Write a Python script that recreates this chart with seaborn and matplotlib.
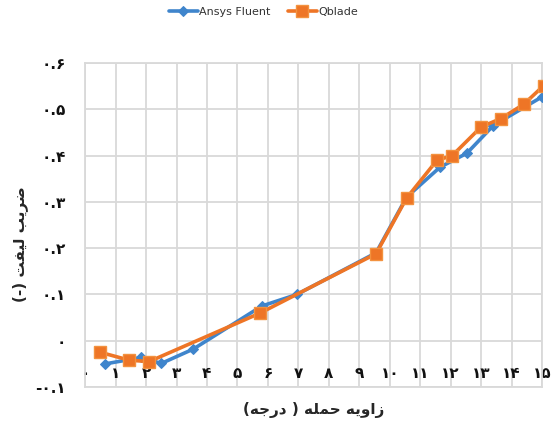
import matplotlib
matplotlib.use("Agg")
import matplotlib.pyplot as plt
import seaborn as sns
import pandas as pd

# ---- data ----
fluent_x = [0.66, 1.85, 2.5, 3.55, 5.8, 6.95, 9.55, 10.55, 11.65, 12.53, 13.4, 15.0]
fluent_y = [-0.050, -0.036, -0.049, -0.018, 0.075, 0.100, 0.190, 0.310, 0.375, 0.405, 0.465, 0.527]
qblade_x = [0.5, 1.45, 2.1, 5.75, 9.55, 10.55, 11.55, 12.05, 13.0, 13.65, 14.4, 15.05]
qblade_y = [-0.025, -0.042, -0.045, 0.060, 0.188, 0.308, 0.390, 0.400, 0.462, 0.480, 0.511, 0.551]

series_names = ["Ansys Fluent", "Qblade"]
x_ticks = list(range(0, 16))
x_tick_labels = ["۰", "۱", "۲", "۳", "۴", "۵", "۶", "۷", "۸", "۹",
                 "۱۰", "۱۱", "۱۲", "۱۳", "۱۴", "۱۵"]
y_ticks = [-0.1, 0.0, 0.1, 0.2, 0.3, 0.4, 0.5, 0.6]
y_tick_labels = ["-۰.۱", "۰", "۰.۱", "۰.۲", "۰.۳", "۰.۴", "۰.۵", "۰.۶"]
# visual (shaped, left-to-right) forms of the Persian axis titles
x_title = "(ﻪﺟﺭﺩ ) ﻪﻠﻤﺣ ﻪﯾﻭﺍﺯ"      # زاویه حمله ( درجه)
y_title = "(-) ﺖﻔﯿﻟ ﺐﯾﺮﺿ"          # ضریب لیفت (-)

df_f = pd.DataFrame({"x": fluent_x, "y": fluent_y})
df_q = pd.DataFrame({"x": qblade_x, "y": qblade_y})

sns.set_theme(style="white")
plt.rcParams["font.family"] = ["DejaVu Sans"]

blue = "#3F85CC"
orange = "#EE7526"
grid = "#D9D9D9"

fig = plt.figure(figsize=(5.6, 4.23), dpi=100)
ax = fig.add_axes([0.152, 0.085, 0.816, 0.766])

sns.lineplot(data=df_f, x="x", y="y", ax=ax, sort=False, color=blue,
             linewidth=2.6, marker="D", markersize=5.5, markeredgecolor=blue,
             label=series_names[0], zorder=3)
sns.lineplot(data=df_q, x="x", y="y", ax=ax, sort=False, color=orange,
             linewidth=2.6, marker="s", markersize=9.0, markeredgecolor="#F3923F",
             markeredgewidth=1.0, label=series_names[1], zorder=4)

ax.set_xlim(0, 15)
ax.set_ylim(-0.1, 0.6)
ax.set_xticks(x_ticks)
ax.set_xticklabels(x_tick_labels, fontsize=11, fontweight="bold", color="#111111")
ax.set_yticks(y_ticks)
ax.set_yticklabels(y_tick_labels, fontsize=11, fontweight="bold", color="#111111")
ax.tick_params(axis="x", length=0, pad=-15)
ax.tick_params(axis="y", length=0, pad=14)

ax.grid(True, color=grid, linewidth=1.3)
for s in ax.spines.values():
    s.set_color(grid)
    s.set_linewidth(1.3)

ax.set_xlabel(x_title, fontsize=11, fontweight="bold")
ax.xaxis.set_label_coords(0.5, -0.045)
ax.set_ylabel(y_title, fontsize=11, fontweight="bold")
ax.yaxis.set_label_coords(-0.124, 0.44)

leg = ax.legend(loc="upper center", bbox_to_anchor=(0.39, 1.205), ncol=2,
                frameon=False, fontsize=8, handlelength=2.6, columnspacing=1.6,
                handletextpad=0.1)
for t in leg.get_texts():
    t.set_family(["Liberation Sans Narrow", "DejaVu Sans"])
    t.set_color("#333333")

fig.savefig("out.png", dpi=100)
